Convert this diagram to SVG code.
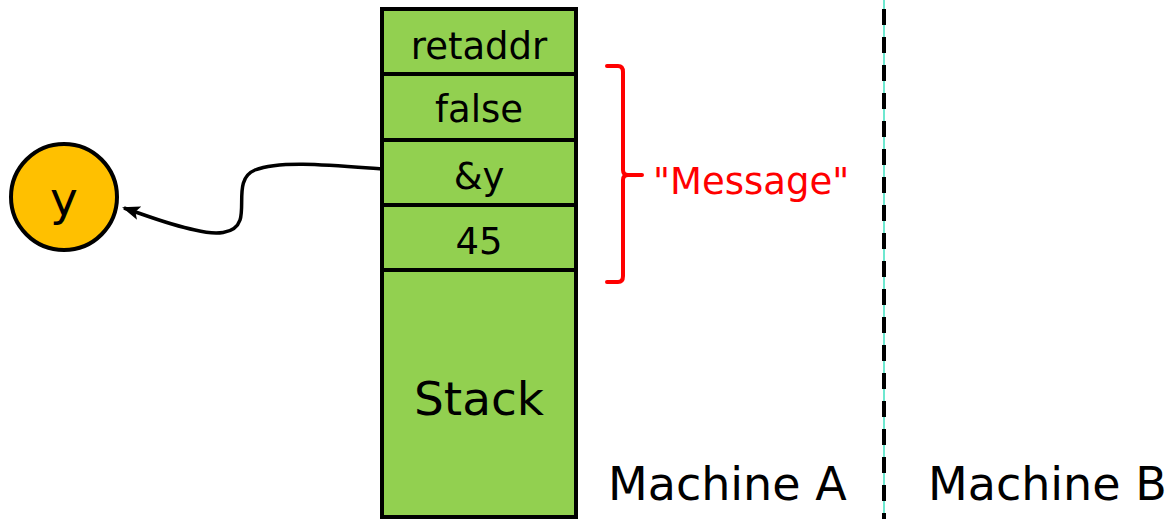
<svg xmlns="http://www.w3.org/2000/svg" width="1172" height="519" viewBox="0 0 1172 519">
  <style>
    .cell { fill: #92D050; stroke: #000; stroke-width: 4; }
    .lbl { font-family: "DejaVu Sans", Verdana, sans-serif; fill: #000; text-anchor: middle; }
    .red { font-family: "DejaVu Sans", Verdana, sans-serif; fill: #FF0000; }
    .mach { font-family: "DejaVu Sans", Verdana, sans-serif; fill: #000; font-size: 46px; }
  </style>
  <defs>
    <marker id="arrow" markerWidth="18" markerHeight="14" refX="16" refY="7" orient="auto" markerUnits="userSpaceOnUse" viewBox="0 0 18 14">
      <path d="M0,0 L18,7 L0,14 L4,7 z" fill="#000"/>
    </marker>
  </defs>
  <rect width="1172" height="519" fill="#fff"/>

  <!-- machine divider -->
  <g id="divider">
    <line x1="884" y1="0" x2="884" y2="519" stroke="#6EE8D0" stroke-width="2"/>
    <line x1="884" y1="9" x2="884" y2="519" stroke="#000" stroke-width="4" stroke-dasharray="16 12"/>
  </g>

  <!-- stack frame -->
  <g id="stack">
    <g id="cell-retaddr"><rect class="cell" x="382" y="9" width="194" height="65"/><text class="lbl" x="479" y="59" font-size="37">retaddr</text></g>
    <g id="cell-false"><rect class="cell" x="382" y="74" width="194" height="66"/><text class="lbl" x="479" y="122" font-size="37">false</text></g>
    <g id="cell-refy"><rect class="cell" x="382" y="140" width="194" height="65"/><text class="lbl" x="479" y="189" font-size="37">&amp;y</text></g>
    <g id="cell-45"><rect class="cell" x="382" y="205" width="194" height="65"/><text class="lbl" x="479" y="254" font-size="37">45</text></g>
    <g id="cell-stack"><rect class="cell" x="382" y="270" width="194" height="247"/><text class="lbl" x="479" y="415" font-size="47">Stack</text></g>
  </g>

  <!-- variable y -->
  <g id="var-y">
    <circle cx="64" cy="197" r="53" fill="#FFC000" stroke="#000" stroke-width="4"/>
    <text class="lbl" x="64" y="215" font-size="47">y</text>
  </g>

  <!-- pointer connector -->
  <g id="connectors">
    <path d="M382,169 C330,165 280,160 255,170 C235,178 245,205 240,220 C235,235 215,235 195,230 C170,225 145,215 124,208" fill="none" stroke="#000" stroke-width="3.5" marker-end="url(#arrow)"/>
  </g>

  <!-- message brace -->
  <g id="message">
    <path d="M607,66 L618,66 Q623,66 623,72 L623,170 Q623,175 628,175 L642,175 M628,175 Q623,175 623,180 L623,276 Q623,282 618,282 L607,282" fill="none" stroke="#FF0000" stroke-width="4" stroke-linecap="round"/>
    <text class="red" x="653" y="194" font-size="37">"Message"</text>
  </g>

  <g id="machine-a"><text class="mach" x="608" y="500">Machine A</text></g>
  <g id="machine-b"><text class="mach" x="928" y="500">Machine B</text></g>
</svg>
